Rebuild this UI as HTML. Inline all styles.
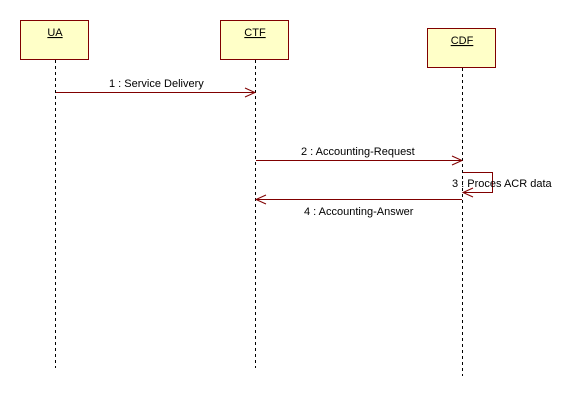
<!DOCTYPE html>
<html><head><style>
body{margin:0;background:#fff;}
svg{display:block;}
text{font-family:"Liberation Sans",sans-serif;font-size:11px;fill:#000;}
</style></head><body>
<svg width="569" height="400" xmlns="http://www.w3.org/2000/svg">
<g stroke="#800000" stroke-width="1" fill="#ffffc8">
<rect x="20.5" y="20.5" width="68" height="39"/>
<rect x="220.5" y="20.5" width="68" height="39"/>
<rect x="427.5" y="28.5" width="68" height="39"/>
</g>
<g fill="#000" text-anchor="middle">
<text x="55" y="36" text-decoration="underline">UA</text>
<text x="255" y="36" text-decoration="underline">CTF</text>
<text x="462" y="44" text-decoration="underline">CDF</text>
</g>
<line x1="55.5" y1="60" x2="55.5" y2="368" stroke="#000" stroke-dasharray="3,3"/>
<line x1="255.5" y1="60" x2="255.5" y2="368" stroke="#000" stroke-dasharray="3,3"/>
<line x1="462.5" y1="68" x2="462.5" y2="376" stroke="#000" stroke-dasharray="3,3"/>
<g stroke="#800000" fill="none" stroke-width="1">
<line x1="56" y1="92.5" x2="255" y2="92.5"/>
<polyline points="245,88 255,92.5 245,97"/>
<line x1="256" y1="160.5" x2="462" y2="160.5"/>
<polyline points="452,156 462,160.5 452,165"/>
<polyline points="463,172.5 492.5,172.5 492.5,192.5 463,192.5"/>
<polyline points="473,188 463,192.5 473,197"/>
<line x1="256" y1="199.5" x2="462" y2="199.5"/>
<polyline points="266,195 256,199.5 266,204"/>
</g>
<text x="109" y="87">1 : Service Delivery</text>
<text x="301" y="155">2 : Accounting-Request</text>
<text x="452" y="187">3 : Proces ACR data</text>
<text x="304" y="215">4 : Accounting-Answer</text>
</svg>
</body></html>
